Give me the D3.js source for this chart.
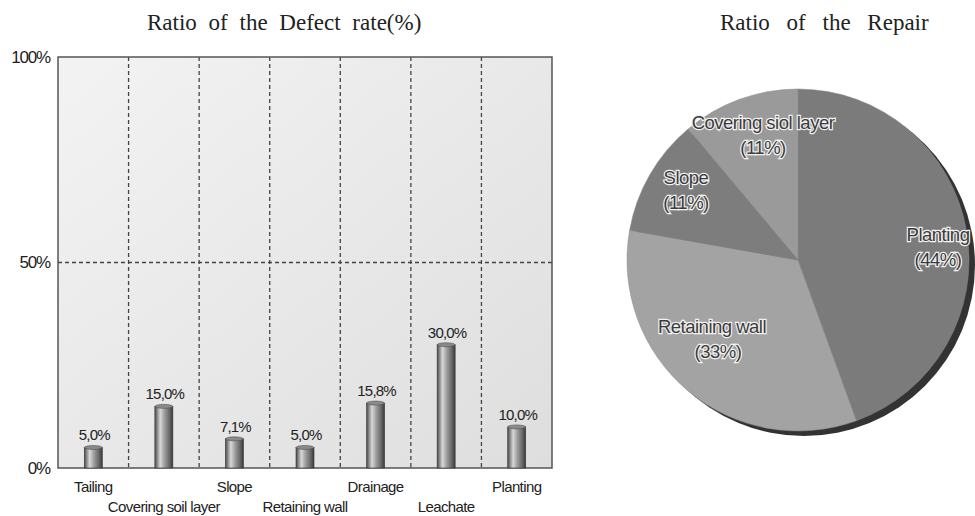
<!DOCTYPE html>
<html><head><meta charset="utf-8">
<script src="https://cdn.jsdelivr.net/npm/d3@7"></script>
<style>body{margin:0;background:#fff}svg{display:block}</style>
</head><body>
<svg id="c" width="975" height="516"></svg>
<script>
const categories = ["Tailing","Covering soil layer","Slope","Retaining wall","Drainage","Leachate","Planting"];
const defectRates = [5.0, 15.0, 7.1, 5.0, 15.8, 30.0, 10.0];
const valueLabels = ["5,0%","15,0%","7,1%","5,0%","15,8%","30,0%","10,0%"];
const yTicks = [0, 50, 100];
const yTickLabels = ["0%","50%","100%"];
const pieCategories = ["Planting","Retaining wall","Slope","Covering siol layer"];
const pieValues = [44.4, 33.3, 11.1, 11.1];
const pieLabels = ["(44%)","(33%)","(11%)","(11%)"];

const svg = d3.select("#c");
const defs = svg.append("defs");
const SANS = "Liberation Sans, Arial, sans-serif";

const bg = defs.append("linearGradient").attr("id","bg").attr("x1","0").attr("y1","0").attr("x2","1").attr("y2","1");
bg.append("stop").attr("offset","0").attr("stop-color","#f3f3f3");
bg.append("stop").attr("offset","1").attr("stop-color","#dedede");
const barG = defs.append("linearGradient").attr("id","barg").attr("x1","0").attr("x2","1").attr("y1","0").attr("y2","0");
[["0","#4a4a4a"],["0.3","#d8d8d8"],["0.55","#9a9a9a"],["0.8","#6a6a6a"],["1","#3a3a3a"]].forEach(s=>barG.append("stop").attr("offset",s[0]).attr("stop-color",s[1]));

// ---------- bar chart ----------
const L=58, R=552, T=57, B=468;
const x = d3.scaleBand().domain(categories).range([L,R]).paddingInner(0).paddingOuter(0);
const y = d3.scaleLinear().domain([0,100]).range([B,T]);

svg.append("rect").attr("x",L).attr("y",T).attr("width",R-L).attr("height",B-T).attr("fill","url(#bg)");

svg.append("g").selectAll("line").data(categories.slice(1)).join("line")
  .attr("x1",d=>x(d)).attr("x2",d=>x(d)).attr("y1",T).attr("y2",B)
  .attr("stroke","#444").attr("stroke-width",1.3).attr("stroke-dasharray","4,3");
svg.append("line").attr("x1",L).attr("x2",R).attr("y1",y(50)).attr("y2",y(50))
  .attr("stroke","#444").attr("stroke-width",1.3).attr("stroke-dasharray","4,3");

svg.append("rect").attr("x",L).attr("y",T).attr("width",R-L).attr("height",B-T)
  .attr("fill","none").attr("stroke","#555").attr("stroke-width",1.5);

const yAxis = d3.axisLeft(y).tickValues(yTicks).tickFormat((d,i)=>yTickLabels[i]).tickSize(0).tickPadding(8);
const ya = svg.append("g").attr("transform",`translate(${L},0)`).call(yAxis);
ya.select(".domain").remove();
ya.selectAll("text").attr("font-family",SANS).attr("font-size",17).attr("fill","#222").attr("letter-spacing","-1.2");

const bw = 18;
const bars = svg.append("g").selectAll("g").data(categories).join("g");
bars.append("rect")
  .attr("x",d=>x(d)+x.bandwidth()/2-bw/2)
  .attr("y",(d,i)=>y(defectRates[i]))
  .attr("width",bw)
  .attr("height",(d,i)=>B-y(defectRates[i]))
  .attr("fill","url(#barg)").attr("stroke","#333").attr("stroke-width",0.6);
bars.append("ellipse")
  .attr("cx",d=>x(d)+x.bandwidth()/2)
  .attr("cy",(d,i)=>y(defectRates[i]))
  .attr("rx",bw/2).attr("ry",2)
  .attr("fill","#8a8a8a").attr("stroke","#444").attr("stroke-width",0.5);
bars.append("text")
  .attr("x",d=>x(d)+x.bandwidth()/2+1)
  .attr("y",(d,i)=>y(defectRates[i])-7)
  .attr("text-anchor","middle")
  .attr("font-family",SANS).attr("font-size",15).attr("fill","#222").attr("letter-spacing","-0.8")
  .text((d,i)=>valueLabels[i]);

svg.append("g").selectAll("text").data(categories).join("text")
  .attr("x",d=>x(d)+x.bandwidth()/2)
  .attr("y",(d,i)=> i%2===0 ? 492 : 512)
  .attr("text-anchor","middle")
  .attr("font-family",SANS).attr("font-size",15).attr("fill","#222").attr("letter-spacing","-0.6")
  .text(d=>d);

svg.append("text").attr("x",147).attr("y",30)
  .attr("font-family","Liberation Serif, serif").attr("font-size",23).attr("fill","#222")
  .attr("word-spacing",6)
  .text("Ratio of the Defect rate(%)");
svg.append("text").attr("x",720).attr("y",30)
  .attr("font-family","Liberation Serif, serif").attr("font-size",23).attr("fill","#222")
  .attr("word-spacing",11)
  .text("Ratio of the Repair");

// ---------- pie ----------
const cx=798, cy=260, r=171;
const pieColors = ["#7b7b7b","#a3a3a3","#7d7d7d","#9a9a9a"];
const pie = d3.pie().sort(null).value(d=>d)(pieValues);
const arc = d3.arc().innerRadius(0).outerRadius(r);
const pg = svg.append("g").attr("transform",`translate(${cx},${cy})`);
pg.append("circle").attr("cx",6).attr("cy",5).attr("r",r).attr("fill","#333");
pg.selectAll("path").data(pie).join("path").attr("d",arc)
  .attr("fill",(d,i)=>pieColors[i]).attr("stroke","#8a8a8a").attr("stroke-width",0.5);

const labelPos = [[140,-19],[-86,73],[-112,-76],[-35,-131]];
const pl = pg.selectAll("g.lab").data(pie).join("g").attr("class","lab")
  .attr("transform",(d,i)=>`translate(${labelPos[i][0]},${labelPos[i][1]})`);
function halo(sel){
  sel.attr("text-anchor","middle").attr("font-family",SANS).attr("font-size",18.5)
    .attr("fill","#3a3a3a").attr("stroke","#f2f2f2").attr("stroke-width",2.4).attr("paint-order","stroke").attr("letter-spacing","-0.5");
}
pl.append("text").attr("y",0).text((d,i)=>pieCategories[i]).call(halo);
pl.append("text").attr("y",25).attr("dx",(d,i)=>i===1?6:0).text((d,i)=>pieLabels[i]).call(halo);
</script>
</body></html>
